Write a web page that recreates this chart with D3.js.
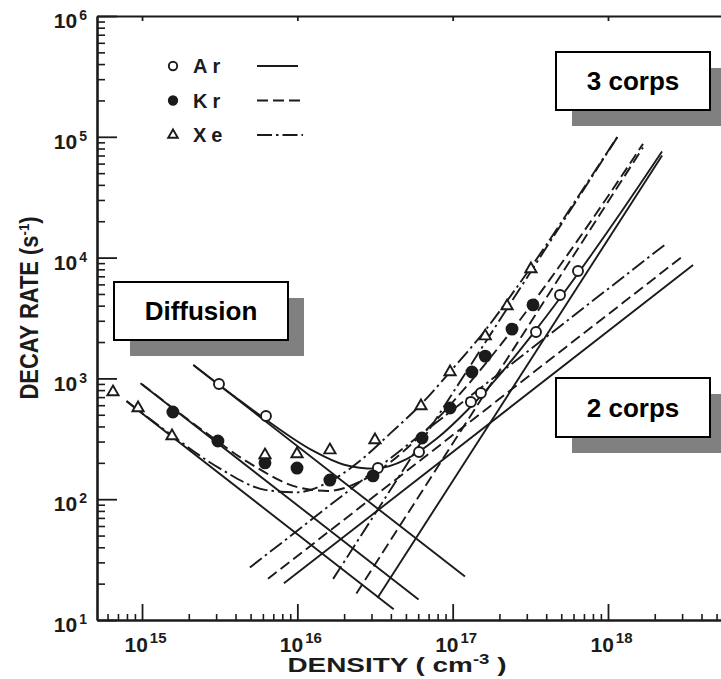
<!DOCTYPE html>
<html>
<head>
<meta charset="utf-8">
<script src="https://cdn.jsdelivr.net/npm/d3@7"></script>
<style>
  body { margin: 0; background: #fff; }
  svg { display: block; }
</style>
</head>
<body>
<div id="chart"></div>
<script>
// decay rate (s^-1) against density (cm^-3)
const xDomain = [5.13e14, 5.34e18]
const yDomain = [10, 1e6]
const xMajor = [1e15, 1e16, 1e17, 1e18]
const yMajor = [1e1, 1e2, 1e3, 1e4, 1e5, 1e6]
const legendLabels = ["Ar", "Kr", "Xe"]

// measured points [density, rate]
const arPoints = [
  [3.13e15, 900], [6.28e15, 489], [3.30e16, 181], [6.07e16, 246], [1.31e17, 638],
  [1.52e17, 757], [3.44e17, 2420], [4.91e17, 4900], [6.41e17, 7740]
]
const krPoints = [
  [1.58e15, 527], [3.08e15, 303], [6.19e15, 200], [9.95e15, 181], [1.62e16, 144],
  [3.07e16, 156], [6.35e16, 321], [9.62e16, 569], [1.33e17, 1130], [1.62e17, 1530],
  [2.41e17, 2560], [3.29e17, 4060]
]
const xePoints = [
  [6.50e14, 771], [9.43e14, 569], [1.56e15, 334], [6.19e15, 232], [9.95e15, 237],
  [1.62e16, 255], [3.16e16, 309], [6.25e16, 591], [9.62e16, 1130], [1.62e17, 2240],
  [2.24e17, 3970], [3.19e17, 8050]
]

// straight asymptotes, end points [density, rate]
const arDiffusion = [[2.14e15, 1288], [1.20e17, 22.9]]
const krDiffusion = [[9.77e14, 912], [6.03e16, 14.8]]
const xeDiffusion = [[7.94e14, 646], [4.17e16, 12.3]]

const arTwoBody = [[8.20e15, 20.1], [3.53e18, 8670]]
const krTwoBody = [[6.47e15, 21.9], [3.00e18, 10160]]
const xeTwoBody = [[4.95e15, 27.2], [2.33e18, 12823]]

const arThreeBody = [[3.28e16, 15.2], [2.23e18, 70150]]
const krThreeBody = [[2.40e16, 16.6], [1.68e18, 81660]]
const xeThreeBody = [[1.70e16, 21.9], [1.15e18, 99540]]

// fitted total curves, sampled along the drawn curve
const arTotal = [
  [2.14e15, 1294], [3.98e15, 702], [6.31e15, 453], [1.26e16, 252], [2.0e16, 193],
  [3.16e16, 179], [5.01e16, 214], [7.94e16, 319], [1.26e17, 555], [2.0e17, 1066],
  [3.16e17, 2198], [5.01e17, 4783], [7.94e17, 10863], [1.26e18, 25477], [2.23e18, 75620]
]
const krTotal = [
  [1.0e15, 894], [2.51e15, 364], [5.01e15, 196], [1.0e16, 126], [1.58e16, 117],
  [2.51e16, 139], [3.98e16, 203], [6.31e16, 343], [1.0e17, 636], [1.58e17, 1266],
  [2.51e17, 2676], [3.98e17, 5922], [6.31e17, 13624], [1.0e18, 32232], [1.68e18, 87360]
]
const xeTotal = [
  [7.94e14, 650], [1.58e15, 333], [3.16e15, 180], [6.31e15, 119], [1.0e16, 114],
  [1.58e16, 138], [2.51e16, 206], [3.98e16, 352], [6.31e16, 617], [1.0e17, 1202],
  [1.58e17, 2399], [2.51e17, 5370], [3.98e17, 12589], [6.31e17, 30903], [1.15e18, 100000]
]

const ink = "#1b1b1b"
const font = "'Liberation Sans', Arial, sans-serif"
const width = 721, height = 679

const svg = d3.select("#chart").append("svg")
  .attr("width", width)
  .attr("height", height)
  .attr("viewBox", [0, 0, width, height])

const x = d3.scaleLog().domain(xDomain).range([97, 721])
const y = d3.scaleLog().domain(yDomain).range([620, 16])

const isDecade = d => Math.abs(Math.log10(d) - Math.round(Math.log10(d))) < 1e-6
const xMinor = x.ticks().filter(d => !isDecade(d))
const yMinor = y.ticks().filter(d => !isDecade(d))

const superLabel = (sel, size, dy) => sel.text("10")
  .append("tspan")
    .attr("dx", 2)
    .attr("dy", dy)
    .attr("font-size", size)
    .text(d => Math.round(Math.log10(d)))

const inkLines = (g, w) => g.selectAll("line").attr("stroke", ink).attr("stroke-width", w)

// left axis
svg.append("g")
  .attr("transform", `translate(${x.range()[0]},0)`)
  .call(d3.axisLeft(y).tickValues(yMinor).tickSize(-8).tickSizeOuter(0).tickFormat(""))
  .call(g => g.select(".domain").remove())
  .call(inkLines, 1.6)

svg.append("g")
  .attr("transform", `translate(${x.range()[0]},0)`)
  .call(d3.axisLeft(y).tickValues(yMajor).tickSize(-20).tickSizeOuter(0).tickPadding(10))
  .attr("font-family", font).attr("font-size", 21).attr("font-weight", "bold")
  .call(g => g.select(".domain").attr("stroke", ink).attr("stroke-width", 2.6))
  .call(inkLines, 1.8)
  .call(g => g.selectAll(".tick text").attr("fill", ink).attr("y", 5).call(superLabel, 14, -8))

// bottom axis
svg.append("g")
  .attr("transform", `translate(0,${y.range()[0]})`)
  .call(d3.axisBottom(x).tickValues(xMinor).tickSize(-6).tickSizeOuter(0).tickFormat(""))
  .call(g => g.select(".domain").remove())
  .call(inkLines, 1.6)

svg.append("g")
  .attr("transform", `translate(0,${y.range()[0]})`)
  .call(d3.axisBottom(x).tickValues(xMajor).tickSize(-16).tickSizeOuter(0))
  .attr("font-family", font).attr("font-size", 21).attr("font-weight", "bold")
  .call(g => g.select(".domain").attr("stroke", ink).attr("stroke-width", 2.6))
  .call(inkLines, 1.8)
  .call(g => g.selectAll(".tick text").attr("fill", ink)
    .attr("y", 32).attr("dy", null).attr("dx", 3)
    .call(superLabel, 15, -9))

// top frame
svg.append("g")
  .attr("transform", `translate(0,${y.range()[1]})`)
  .call(d3.axisTop(x).tickValues(xMajor).tickSize(-5).tickSizeOuter(0).tickFormat(""))
  .call(g => g.select(".domain").attr("stroke", ink).attr("stroke-width", 2.2))
  .call(inkLines, 1.8)

// axis titles
const yTitle = svg.append("text")
  .attr("transform", "translate(38,308) rotate(-90)")
  .attr("text-anchor", "middle")
  .attr("font-family", font).attr("font-size", 25).attr("font-weight", "bold")
  .attr("fill", ink)
  .attr("textLength", 183).attr("lengthAdjust", "spacingAndGlyphs")
yTitle.append("tspan").text("DECAY  RATE  (s")
yTitle.append("tspan").attr("dy", -9).attr("font-size", 15).text("-1")
yTitle.append("tspan").attr("dy", 9).text(")")

const xTitle = svg.append("text")
  .attr("x", 397).attr("y", 672)
  .attr("text-anchor", "middle")
  .attr("font-family", font).attr("font-size", 21).attr("font-weight", "bold")
  .attr("fill", ink)
  .attr("textLength", 219).attr("lengthAdjust", "spacingAndGlyphs")
xTitle.append("tspan").text("DENSITY  ( cm")
xTitle.append("tspan").attr("dy", -8).attr("font-size", 14).text("-3")
xTitle.append("tspan").attr("dy", 8).text(" )")

// curves
const line = d3.line().x(d => x(d[0])).y(d => y(d[1]))
const smooth = d3.line().x(d => x(d[0])).y(d => y(d[1])).curve(d3.curveMonotoneX)

const gases = [
  {points: arPoints, diffusion: arDiffusion, twoBody: arTwoBody, threeBody: arThreeBody, total: arTotal, dash: null, marker: "open"},
  {points: krPoints, diffusion: krDiffusion, twoBody: krTwoBody, threeBody: krThreeBody, total: krTotal, dash: "11,5", marker: "filled"},
  {points: xePoints, diffusion: xeDiffusion, twoBody: xeTwoBody, threeBody: xeThreeBody, total: xeTotal, dash: "15,4,2.5,4", marker: "triangle"}
]

const plot = svg.append("g")
  .attr("fill", "none")
  .attr("stroke", ink)
  .attr("stroke-width", 1.9)

gases.forEach(gas => {
  plot.append("path").attr("d", line(gas.diffusion))
  plot.append("path").attr("d", line(gas.twoBody)).attr("stroke-dasharray", gas.dash)
  plot.append("path").attr("d", line(gas.threeBody)).attr("stroke-dasharray", gas.dash)
  plot.append("path").attr("d", smooth(gas.total)).attr("stroke-dasharray", gas.dash)
})

const triangle = d3.symbol(d3.symbolTriangle, 55)
const smallTriangle = d3.symbol(d3.symbolTriangle, 40)

function drawMarker(g, kind, small) {
  if (kind === "triangle") {
    g.append("path").attr("d", small ? smallTriangle() : triangle())
      .attr("fill", "#fff").attr("stroke", ink).attr("stroke-width", 1.9)
  } else {
    g.append("circle").attr("r", small ? 4.2 : (kind === "filled" ? 5.5 : 5))
      .attr("fill", kind === "filled" ? ink : "#fff")
      .attr("stroke", ink).attr("stroke-width", 1.9)
  }
}

const markers = svg.append("g")
gases.forEach(gas => {
  markers.append("g").selectAll("g")
    .data(gas.points)
    .join("g")
      .attr("transform", d => `translate(${x(d[0])},${y(d[1])})`)
      .each(function() { drawMarker(d3.select(this), gas.marker, false) })
})

// legend
const legend = svg.append("g")
  .attr("font-family", font).attr("font-size", 20).attr("font-weight", "bold")
  .attr("fill", ink)

legendLabels.forEach((name, i) => {
  const row = legend.append("g").attr("transform", `translate(173,${66 + i * 34.5})`)
  drawMarker(row, gases[i].marker, true)
  row.append("text").attr("x", 20).attr("y", 7).attr("letter-spacing", 5).text(name)
  row.append("line")
    .attr("x1", 84).attr("x2", i === 0 ? 125 : 130)
    .attr("stroke", ink).attr("stroke-width", 1.9)
    .attr("stroke-dasharray", gases[i].dash)
})

// regime boxes with drop shadow
const boxes = [
  {label: "Diffusion", x: 114, y: 282, w: 174, h: 58},
  {label: "3 corps", x: 556, y: 52, w: 154, h: 58},
  {label: "2 corps", x: 556, y: 378, w: 154, h: 59}
]

const boxG = svg.append("g").selectAll("g")
  .data(boxes)
  .join("g")
    .attr("transform", d => `translate(${d.x},${d.y})`)

boxG.append("rect")
  .attr("x", 16).attr("y", 16)
  .attr("width", d => d.w).attr("height", d => d.h)
  .attr("fill", "#808080")

boxG.append("rect")
  .attr("width", d => d.w).attr("height", d => d.h)
  .attr("fill", "#fff").attr("stroke", "#000").attr("stroke-width", 2)

boxG.append("text")
  .attr("x", d => d.w / 2).attr("y", d => d.h / 2 + 9)
  .attr("text-anchor", "middle")
  .attr("font-family", "Arial, 'Liberation Sans', sans-serif")
  .attr("font-size", 26).attr("font-weight", "bold")
  .text(d => d.label)
</script>
</body>
</html>
